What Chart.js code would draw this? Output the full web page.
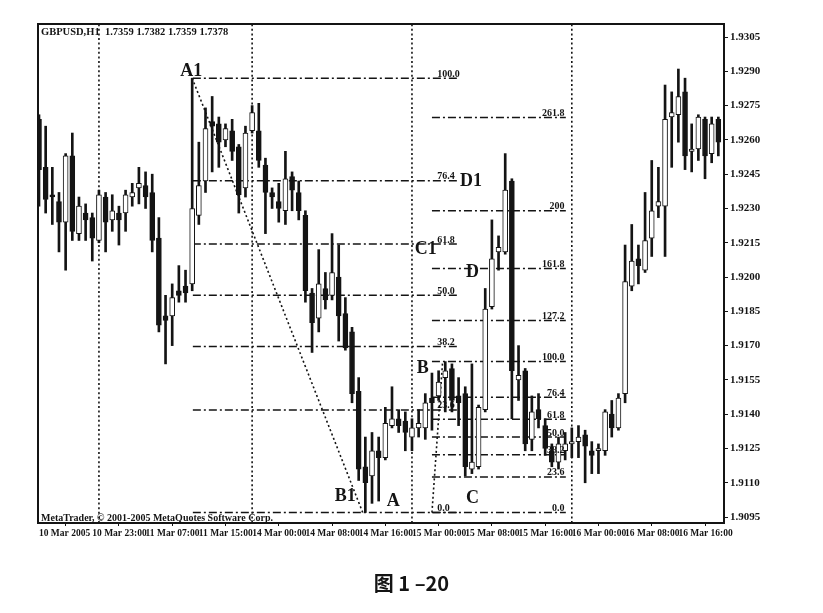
<!DOCTYPE html>
<html>
<head>
<meta charset="utf-8">
<script src="https://cdn.jsdelivr.net/npm/chart.js@4.4.0/dist/chart.umd.min.js"></script>
<style>
  body { margin: 0; background: #fff; }
  #wrap { position: relative; width: 823px; height: 613px; }
  #caption {
    position: absolute; left: 0; top: 568px; width: 823px;
    text-align: center; color: #141414;
    font: bold 20px "Noto Sans CJK SC", "Liberation Serif", serif;
  }
</style>
</head>
<body>
<div id="wrap">
  <canvas id="chart" width="823" height="613"></canvas>
  <div id="caption">图 1 –20</div>
</div>
<script>
// GBPUSD H1, 10 Mar 2005 15:00 .. 16 Mar 2005 22:00 (one value per bar)
const opens = [
  1.9269, 1.9248, 1.9236, 1.9233, 1.9224, 1.9253, 1.9219, 1.9228, 1.9226, 1.9216,
  1.9235, 1.9225, 1.9228, 1.9228, 1.9235, 1.9239, 1.9240, 1.9237, 1.9217, 1.9183,
  1.9183, 1.9194, 1.9196, 1.9197, 1.9227, 1.9242, 1.9268, 1.9267, 1.9260, 1.9264,
  1.9257, 1.9239, 1.9264, 1.9264, 1.9249, 1.9237, 1.9233, 1.9229, 1.9244, 1.9237,
  1.9227, 1.9193, 1.9182, 1.9195, 1.9192, 1.9200, 1.9184, 1.9176, 1.9150, 1.9117,
  1.9113, 1.9124, 1.9121, 1.9135, 1.9138, 1.9137, 1.9130, 1.9134, 1.9134, 1.9147,
  1.9148, 1.9156, 1.9160, 1.9148, 1.9149, 1.9116, 1.9117, 1.9142, 1.9187, 1.9211,
  1.9211, 1.9242, 1.9155, 1.9159, 1.9129, 1.9142, 1.9135, 1.9124, 1.9119, 1.9124,
  1.9127, 1.9128, 1.9131, 1.9124, 1.9124, 1.9124, 1.9140, 1.9134, 1.9149, 1.9196,
  1.9208, 1.9203, 1.9217, 1.9231, 1.9231, 1.9270, 1.9271, 1.9281, 1.9255, 1.9256,
  1.9269, 1.9254, 1.9269
];
const highs = [
  1.9271, 1.9266, 1.9248, 1.9237, 1.9254, 1.9263, 1.9235, 1.9232, 1.9228, 1.9238,
  1.9237, 1.9236, 1.9231, 1.9238, 1.9241, 1.9248, 1.9246, 1.9245, 1.9226, 1.9192,
  1.9197, 1.9205, 1.9203, 1.9287, 1.9259, 1.9274, 1.9279, 1.9270, 1.9267, 1.9269,
  1.9258, 1.9266, 1.9275, 1.9276, 1.9252, 1.9239, 1.9241, 1.9255, 1.9246, 1.9242,
  1.9229, 1.9195, 1.9212, 1.9202, 1.9219, 1.9214, 1.9191, 1.9178, 1.9156, 1.9130,
  1.9132, 1.9130, 1.9143, 1.9152, 1.9142, 1.9141, 1.9138, 1.9142, 1.9149, 1.9158,
  1.9159, 1.9163, 1.9162, 1.9156, 1.9152, 1.9162, 1.9144, 1.9195, 1.9225, 1.9218,
  1.9254, 1.9243, 1.9170, 1.9160, 1.9148, 1.9149, 1.9138, 1.9127, 1.9130, 1.9132,
  1.9134, 1.9135, 1.9133, 1.9128, 1.9127, 1.9142, 1.9146, 1.9149, 1.9214, 1.9223,
  1.9214, 1.9237, 1.9251, 1.9248, 1.9284, 1.9281, 1.9291, 1.9287, 1.9267, 1.9271,
  1.9270, 1.9270, 1.9270
];
const lows = [
  1.9231, 1.9228, 1.9223, 1.9211, 1.9203, 1.9216, 1.9216, 1.9216, 1.9207, 1.9215,
  1.9211, 1.9220, 1.9214, 1.9220, 1.9231, 1.9232, 1.9230, 1.9211, 1.9176, 1.9162,
  1.9170, 1.9189, 1.9189, 1.9194, 1.9223, 1.9237, 1.9246, 1.9248, 1.9257, 1.9251,
  1.9228, 1.9235, 1.9263, 1.9248, 1.9219, 1.9230, 1.9224, 1.9223, 1.9229, 1.9225,
  1.9189, 1.9167, 1.9176, 1.9186, 1.9190, 1.9172, 1.9168, 1.9145, 1.9111, 1.9097,
  1.9101, 1.9102, 1.9120, 1.9134, 1.9132, 1.9124, 1.9124, 1.9130, 1.9129, 1.9133,
  1.9146, 1.9141, 1.9141, 1.9135, 1.9113, 1.9114, 1.9116, 1.9141, 1.9186, 1.9203,
  1.9210, 1.9138, 1.9146, 1.9124, 1.9124, 1.9134, 1.9122, 1.9117, 1.9116, 1.9120,
  1.9121, 1.9121, 1.9110, 1.9114, 1.9114, 1.9122, 1.9130, 1.9133, 1.9145, 1.9194,
  1.9197, 1.9202, 1.9209, 1.9226, 1.9209, 1.9248, 1.9259, 1.9247, 1.9246, 1.9251,
  1.9243, 1.9250, 1.9253
];
const closes = [
  1.9247, 1.9234, 1.9235, 1.9224, 1.9253, 1.9220, 1.9231, 1.9225, 1.9217, 1.9236,
  1.9224, 1.9229, 1.9225, 1.9236, 1.9237, 1.9241, 1.9235, 1.9216, 1.9179, 1.9181,
  1.9191, 1.9192, 1.9193, 1.9230, 1.9240, 1.9265, 1.9266, 1.9259, 1.9265, 1.9255,
  1.9236, 1.9263, 1.9272, 1.9251, 1.9237, 1.9235, 1.9230, 1.9243, 1.9238, 1.9229,
  1.9194, 1.9180, 1.9197, 1.9190, 1.9202, 1.9183, 1.9169, 1.9149, 1.9116, 1.9110,
  1.9124, 1.9121, 1.9136, 1.9138, 1.9135, 1.9132, 1.9134, 1.9136, 1.9145, 1.9145,
  1.9154, 1.9159, 1.9146, 1.9145, 1.9117, 1.9119, 1.9143, 1.9186, 1.9208, 1.9213,
  1.9238, 1.9159, 1.9157, 1.9127, 1.9141, 1.9138, 1.9125, 1.9119, 1.9127, 1.9127,
  1.9128, 1.9130, 1.9126, 1.9122, 1.9125, 1.9141, 1.9134, 1.9147, 1.9198, 1.9207,
  1.9205, 1.9216, 1.9229, 1.9233, 1.9269, 1.9272, 1.9279, 1.9253, 1.9256, 1.9270,
  1.9253, 1.9267, 1.9259
];

const xTicks = [0, 8, 16, 24, 32, 40, 48, 56, 64, 72, 80, 88, 96];
const xTickLabels = [
  '10 Mar 2005', '10 Mar 23:00', '11 Mar 07:00', '11 Mar 15:00', '14 Mar 00:00',
  '14 Mar 08:00', '14 Mar 16:00', '15 Mar 00:00', '15 Mar 08:00', '15 Mar 16:00',
  '16 Mar 00:00', '16 Mar 08:00', '16 Mar 16:00'
];
const yTicks = [1.9095, 1.9110, 1.9125, 1.9140, 1.9155, 1.9170, 1.9185, 1.9200,
                1.9215, 1.9230, 1.9245, 1.9260, 1.9275, 1.9290, 1.9305];
const daySeparators = [9, 32, 56, 80];

// fibonacci retracement A1 -> B1, and extension A -> B
const fibRatios1 = [0, 23.6, 38.2, 50, 61.8, 76.4, 100];
const fibLabels1 = ['0.0', '23.6', '38.2', '50.0', '61.8', '76.4', '100.0'];
const fibRatios2 = [0, 23.6, 38.2, 50, 61.8, 76.4, 100, 127.2, 161.8, 200, 261.8];
const fibLabels2 = ['0.0', '23.6', '38.2', '50.0', '61.8', '76.4', '100.0', '127.2', '161.8', '200', '261.8'];
const iA1 = 23, iB1 = 49, iB = 61;

// wave letters: bar position, price
const marks = [
  { t: 'A1', x: 21.2, y: 1.9288 },
  { t: 'B1', x: 44.4, y: 1.9102 },
  { t: 'A',  x: 52.2, y: 1.9100 },
  { t: 'B',  x: 56.7, y: 1.9158 },
  { t: 'C',  x: 64.1, y: 1.9101 },
  { t: 'D',  x: 64.1, y: 1.9200 },
  { t: 'C1', x: 56.4, y: 1.9210 },
  { t: 'D1', x: 63.2, y: 1.9240 }
];

const Y_MIN = 1.90924, Y_MAX = 1.93107;
const INK = '#141414';

const bars = opens.map((_, i) => i);
const bodyData = bars.map(i => ({ x: i, y: [opens[i], closes[i]] }));
const wickData = bars.map(i => ({ x: i, y: [lows[i], highs[i]] }));
const bodyFill = bars.map(i => closes[i] > opens[i] ? '#ffffff' : INK);

const fib1Low = lows[iB1], fib1High = highs[iA1];
const fib2Low = lows[iB1], fib2High = highs[iB];
const lvl = (lo, hi, r) => lo + (hi - lo) * r / 100;

function hLine(x0, x1, yv) {
  return {
    type: 'line', data: [{ x: x0, y: yv }, { x: x1, y: yv }],
    borderColor: INK, borderWidth: 1.5, borderDash: [8, 3, 2, 3],
    pointRadius: 0, order: 3
  };
}
function dotted(points) {
  return {
    type: 'line', data: points, borderColor: INK, borderWidth: 1.6,
    borderDash: [2, 2.6], pointRadius: 0, order: 4
  };
}

const lineSets = [];
fibRatios1.forEach(r => lineSets.push(hLine(iA1 + 0.1, 63, lvl(fib1Low, fib1High, r))));
fibRatios2.forEach(r => lineSets.push(hLine(59, 79.1, lvl(fib2Low, fib2High, r))));
daySeparators.forEach(s => lineSets.push(dotted([{ x: s, y: Y_MIN }, { x: s, y: Y_MAX }])));
lineSets.push(dotted([{ x: iA1, y: fib1High }, { x: 48.6, y: fib1Low }]));
lineSets.push(dotted([{ x: 59, y: fib2Low }, { x: 60.6, y: fib2High }]));

const overlay = {
  id: 'overlay',
  afterDatasetsDraw(chart) {
    const { ctx, chartArea: a, scales: { x, y } } = chart;
    ctx.save();
    ctx.fillStyle = INK;
    ctx.textBaseline = 'alphabetic';

    ctx.font = 'bold 10px "Liberation Serif"';
    ctx.textAlign = 'left';
    fibRatios1.forEach((r, k) => {
      const py = y.getPixelForValue(lvl(fib1Low, fib1High, r));
      ctx.fillText(fibLabels1[k], x.getPixelForValue(59.8), py - 1.5);
    });
    ctx.textAlign = 'right';
    fibRatios2.forEach((r, k) => {
      const py = y.getPixelForValue(lvl(fib2Low, fib2High, r));
      ctx.fillText(fibLabels2[k], x.getPixelForValue(78.9), py - 1.5);
    });

    ctx.font = 'bold 18px "Liberation Serif"';
    ctx.textAlign = 'left';
    marks.forEach(m => ctx.fillText(m.t, x.getPixelForValue(m.x), y.getPixelForValue(m.y)));

    ctx.font = 'bold 10.5px "Liberation Serif"';
    ctx.fillText('GBPUSD,H1  1.7359 1.7382 1.7359 1.7378', a.left + 3, a.top + 11);
    ctx.font = 'bold 10px "Liberation Serif"';
    ctx.fillText('MetaTrader, © 2001-2005 MetaQuotes Software Corp.', a.left + 3, a.bottom - 2);
    ctx.restore();
  },
  afterDraw(chart) {
    const { ctx, chartArea: a } = chart;
    ctx.save();
    ctx.strokeStyle = INK;
    ctx.lineWidth = 2;
    ctx.strokeRect(a.left, a.top, a.right - a.left, a.bottom - a.top);
    ctx.restore();
  }
};

new Chart(document.getElementById('chart'), {
  type: 'bar',
  data: {
    datasets: [
      {
        data: bodyData, backgroundColor: bodyFill, borderColor: INK, borderWidth: 1,
        borderSkipped: false, barThickness: 5, grouped: false, order: 0
      },
      {
        data: wickData, backgroundColor: INK, borderWidth: 0,
        barThickness: 2, grouped: false, order: 1
      },
      ...lineSets
    ]
  },
  options: {
    responsive: false,
    animation: false,
    layout: { padding: { left: 38, top: 24, right: 0, bottom: 0 } },
    plugins: { legend: { display: false }, tooltip: { enabled: false } },
    scales: {
      x: {
        type: 'linear', min: -0.15, max: 102.85, offset: false,
        afterBuildTicks: s => { s.ticks = xTicks.map(v => ({ value: v })); },
        afterFit: s => { s.height = 90; },
        ticks: {
          callback: (v, i) => xTickLabels[i],
          align: 'start', maxRotation: 0, autoSkip: false, padding: 2,
          color: INK, font: { family: 'Liberation Serif', size: 9.5, weight: 'bold' }
        },
        grid: { drawOnChartArea: false, drawTicks: true, tickLength: 3, color: INK },
        border: { display: true, color: INK, width: 2 }
      },
      y: {
        type: 'linear', position: 'right', min: Y_MIN, max: Y_MAX,
        afterBuildTicks: s => { s.ticks = yTicks.map(v => ({ value: v })); },
        afterFit: s => { s.width = 99; },
        ticks: {
          callback: v => v.toFixed(4), padding: 2, color: INK,
          font: { family: 'Liberation Serif', size: 11, weight: 'bold' }
        },
        grid: { drawOnChartArea: false, drawTicks: true, tickLength: 4, color: INK },
        border: { display: true, color: INK, width: 2 }
      }
    }
  },
  plugins: [overlay]
});
</script>
</body>
</html>
